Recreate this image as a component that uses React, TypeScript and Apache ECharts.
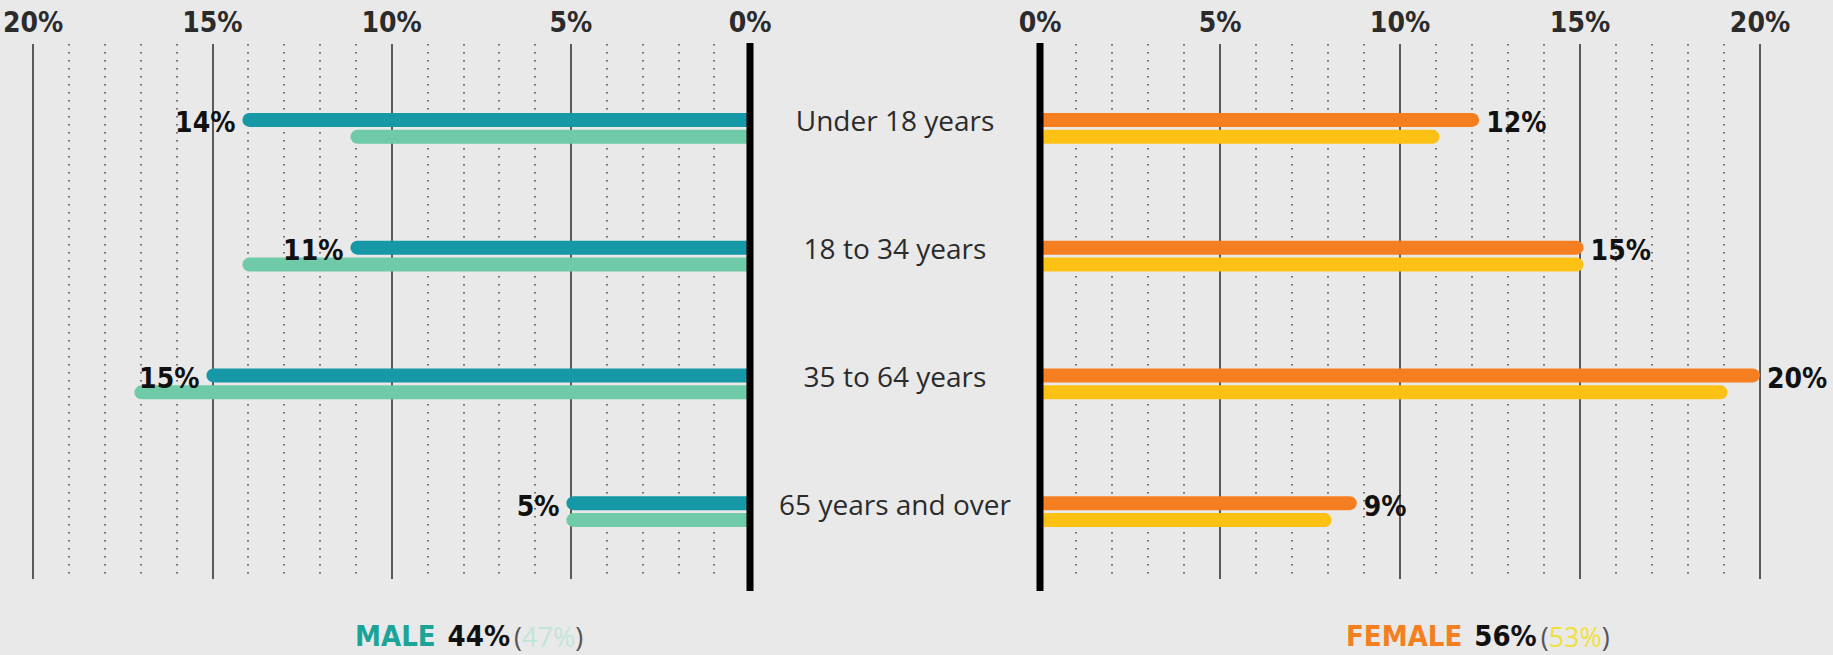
import React, { useEffect, useRef } from "react";
import * as echarts from "echarts";

const categories = ["Under 18 years", "18 to 34 years", "35 to 64 years", "65 years and over"];
const maleNow = [14.1, 11.1, 15.1, 5.1];
const malePrev = [11.1, 14.1, 17.1, 5.1];
const femaleNow = [12.2, 15.1, 20.1, 8.8];
const femalePrev = [11.1, 15.1, 19.1, 8.1];
const axisMax = 20;
const axisStep = 5;
const maleTotal = "44%";
const malePrevTotal = "47%";
const femaleTotal = "56%";
const femalePrevTotal = "53%";

const BOLD = "'Liberation Sans Narrow', 'DejaVu Sans Condensed', 'Liberation Sans', sans-serif";
const LIGHT = "'Open Sans', 'Noto Sans', sans-serif";

const C = {
  bg: "#e9e9e9",
  teal: "#1698a6",
  tealLight: "#6fcaa8",
  orange: "#f57f20",
  yellow: "#fdc114",
  grid: "#2a2a2a",
  dots: "#444",
};

const LEFT_X = 30;
const RIGHT_X = 1040;
const PANEL_W = 720;

export default function App() {
  const ref = useRef<HTMLDivElement>(null);
  useEffect(() => {
    if (!ref.current) return;
    const chart = echarts.init(ref.current, null, { renderer: "svg" });

    const lineXAxis = (inverse: boolean, gridIndex: number) => ({
      type: "value",
      gridIndex,
      min: 0,
      max: axisMax,
      interval: axisStep,
      inverse,
      position: "top",
      axisLine: { show: false },
      axisTick: { show: false },
      axisLabel: {
        formatter: "{value}%",
        margin: 8,
        color: "#2b2b2b",
        fontFamily: BOLD,
        fontWeight: "bold",
        fontSize: 28,
      },
      splitLine: { show: true, lineStyle: { color: C.grid, width: 1.5 } },
      minorTick: { show: false, splitNumber: 5 },
      minorSplitLine: { show: true, lineStyle: { color: C.dots, width: 1.5, type: [1.5, 6.5] } },
    });

    const barXAxis = (inverse: boolean, gridIndex: number) => ({
      type: "value",
      gridIndex,
      min: 0,
      max: axisMax,
      inverse,
      show: false,
      splitLine: { show: false },
    });

    const valueLabel = (position: string) => ({
      show: true,
      position,
      distance: 7,
      offset: [0, 3],
      formatter: (p: any) => `${Math.round(p.value)}%`,
      color: "#111",
      fontFamily: BOLD,
      fontWeight: "bold",
      fontSize: 28,
    });

    const barBase = {
      type: "bar",
      barWidth: 14,
      barGap: "21%",
    };

    const option = {
      animation: false,
      backgroundColor: C.bg,
      grid: [
        { left: LEFT_X, width: PANEL_W, top: 44, height: 535 },
        { left: RIGHT_X, width: PANEL_W, top: 44, height: 535 },
        { left: LEFT_X, width: PANEL_W, top: 64.5, height: 511 },
        { left: RIGHT_X, width: PANEL_W, top: 64.5, height: 511 },
      ],
      xAxis: [
        lineXAxis(true, 0),
        lineXAxis(false, 1),
        barXAxis(true, 2),
        barXAxis(false, 3),
      ],
      yAxis: [
        { type: "value", gridIndex: 0, show: false, min: 0, max: 1 },
        { type: "value", gridIndex: 1, show: false, min: 0, max: 1 },
        {
          type: "category",
          gridIndex: 2,
          data: categories,
          inverse: true,
          position: "right",
          axisLine: { show: false },
          axisTick: { show: false },
          axisLabel: {
            margin: 145,
            align: "center",
            verticalAlign: "bottom",
            lineHeight: 16,
            color: "#2b2b2b",
            fontFamily: LIGHT,
            fontSize: 28,
          },
        },
        {
          type: "category",
          gridIndex: 3,
          data: categories,
          inverse: true,
          axisLine: { show: false },
          axisTick: { show: false },
          axisLabel: { show: false },
        },
      ],
      series: [
        {
          ...barBase,
          name: "Male now",
          xAxisIndex: 2,
          yAxisIndex: 2,
          data: maleNow,
          itemStyle: { color: C.teal, borderRadius: [7, 0, 0, 7] },
          label: valueLabel("left"),
        },
        {
          ...barBase,
          name: "Male previous",
          xAxisIndex: 2,
          yAxisIndex: 2,
          data: malePrev,
          itemStyle: { color: C.tealLight, borderRadius: [7, 0, 0, 7] },
        },
        {
          ...barBase,
          name: "Female now",
          xAxisIndex: 3,
          yAxisIndex: 3,
          data: femaleNow,
          itemStyle: { color: C.orange, borderRadius: [0, 7, 7, 0] },
          label: valueLabel("right"),
        },
        {
          ...barBase,
          name: "Female previous",
          xAxisIndex: 3,
          yAxisIndex: 3,
          data: femalePrev,
          itemStyle: { color: C.yellow, borderRadius: [0, 7, 7, 0] },
        },
      ],
      graphic: [
        {
          type: "line",
          shape: { x1: LEFT_X + PANEL_W, y1: 43, x2: LEFT_X + PANEL_W, y2: 591 },
          style: { stroke: "#000", lineWidth: 7 },
          z: 10,
        },
        {
          type: "line",
          shape: { x1: RIGHT_X, y1: 43, x2: RIGHT_X, y2: 591 },
          style: { stroke: "#000", lineWidth: 7 },
          z: 10,
        },
        {
          type: "text",
          x: 355,
          y: 636,
          style: {
            text: `{a|MALE}{b|${maleTotal}}{p|(}{c|${malePrevTotal}}{p|)}`,
            verticalAlign: "middle",
            rich: {
              a: { fill: "#1ba497", fontFamily: BOLD, fontWeight: "bold", fontSize: 29 },
              b: { fill: "#111", fontFamily: BOLD, fontWeight: "bold", fontSize: 29, padding: [0, 4, 0, 12] },
              p: { fill: "#555", fontFamily: LIGHT, fontSize: 27 },
              c: { fill: "#c2e5da", fontFamily: LIGHT, fontSize: 27 },
            },
          },
        },
        {
          type: "text",
          x: 1346,
          y: 636,
          style: {
            text: `{a|FEMALE}{b|${femaleTotal}}{p|(}{c|${femalePrevTotal}}{p|)}`,
            verticalAlign: "middle",
            rich: {
              a: { fill: "#f47f20", fontFamily: BOLD, fontWeight: "bold", fontSize: 29 },
              b: { fill: "#111", fontFamily: BOLD, fontWeight: "bold", fontSize: 29, padding: [0, 4, 0, 12] },
              p: { fill: "#555", fontFamily: LIGHT, fontSize: 27 },
              c: { fill: "#f0e03a", fontFamily: LIGHT, fontSize: 27 },
            },
          },
        },
      ],
    };

    chart.setOption(option as any);
    return () => chart.dispose();
  }, []);

  return (
    <div
      ref={ref}
      style={{ position: "fixed", left: 0, top: 0, width: 1833, height: 655 }}
    />
  );
}
